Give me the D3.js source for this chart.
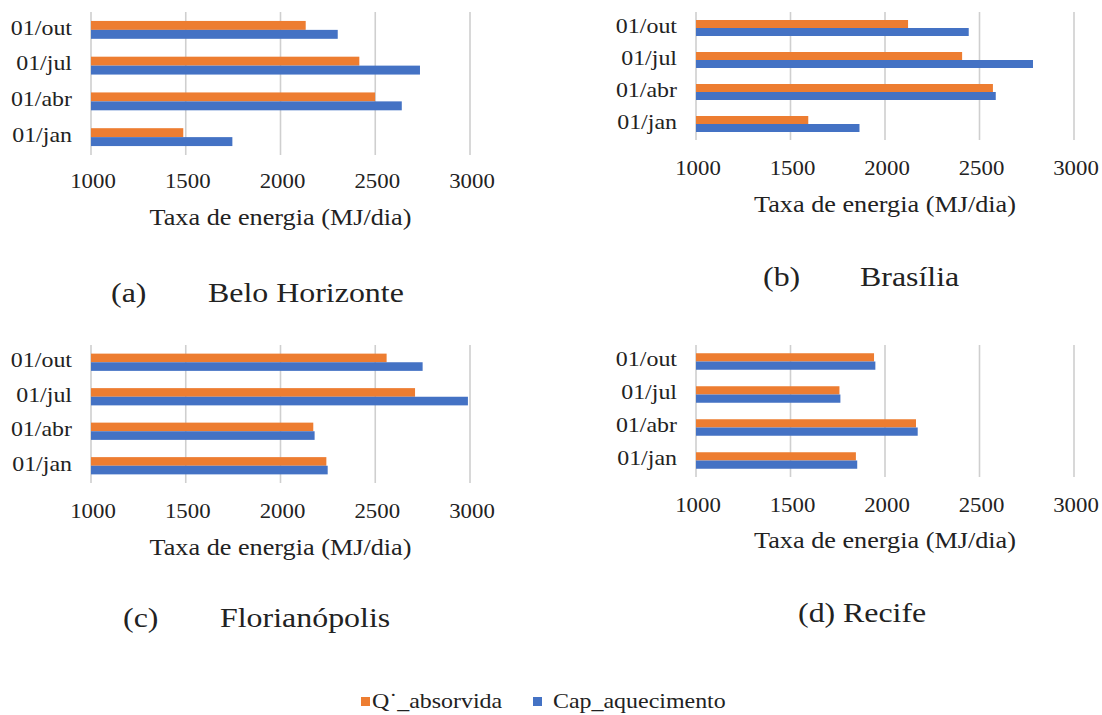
<!DOCTYPE html>
<html>
<head>
<meta charset="utf-8">
<title>Taxa de energia</title>
<style>
body { margin: 0; background: #fff; }
text { font-family: "Liberation Serif", "Times New Roman", serif; fill: #222; }
</style>
</head>
<body>
<script src="https://cdn.jsdelivr.net/npm/d3@7"></script>
<script>
// dane
var categories = ["01/jan", "01/abr", "01/jul", "01/out"];
var seriesNames = ["Q˙_absorvida", "Cap_aquecimento"];
var seriesColors = ["#ED7D31", "#4472C4"];
var xTicks = [1000, 1500, 2000, 2500, 3000];
var axisTitle = "Taxa de energia (MJ/dia)";

var bhQ   = [1487, 2499, 2416, 2133];
var bhCap = [1746, 2640, 2736, 2302];
var brQ   = [1594, 2571, 2408, 2122];
var brCap = [1865, 2586, 2783, 2443];
var flQ   = [2242, 2173, 2710, 2560];
var flCap = [2249, 2180, 2989, 2750];
var reQ   = [1846, 2164, 1759, 1942];
var reCap = [1853, 2173, 1764, 1949];

var width = 1102, height = 715;
var stretch = 1.14; // tekst w oryginale jest rozciagniety w poziomie

var svg = d3.select('body').append('svg')
  .attr('width', width)
  .attr('height', height);

function napis(g, x, y, txt, size, anchor) {
  return g.append('text')
    .attr('transform', 'translate(' + x + ',' + y + ') scale(' + stretch + ',1)')
    .attr('text-anchor', anchor || 'start')
    .attr('dominant-baseline', 'middle')
    .style('font-size', size + 'px')
    .text(txt);
}

var panels = [
  {q: bhQ, cap: bhCap, x0: 91, x1: 470, yTop: 12, yBot: 155, tickY: 183, titleY: 220,
   capY: 296, label: "(a)", labelX: 111, name: "Belo Horizonte", nameX: 208},
  {q: brQ, cap: brCap, x0: 696, x1: 1074, yTop: 12, yBot: 140, tickY: 170, titleY: 207,
   capY: 280, label: "(b)", labelX: 763, name: "Brasília", nameX: 860},
  {q: flQ, cap: flCap, x0: 91, x1: 470, yTop: 345, yBot: 483, tickY: 513, titleY: 550,
   capY: 621, label: "(c)", labelX: 123, name: "Florianópolis", nameX: 220},
  {q: reQ, cap: reCap, x0: 696, x1: 1074, yTop: 345, yBot: 477, tickY: 507, titleY: 543,
   capY: 616, label: "(d)", labelX: 798, name: "Recife", nameX: 843}
];

panels.forEach(function(p) {
  var g = svg.append('g');
  var x = d3.scaleLinear().domain([1000, 3000]).range([p.x0, p.x1]);
  var y = d3.scaleBand().domain(categories).range([p.yBot, p.yTop])
    .paddingInner(0.5).paddingOuter(0.25);
  var ySub = d3.scaleBand().domain([0, 1]).range([0, y.bandwidth()]);

  // linie siatki
  g.selectAll('line.grid')
    .data(xTicks)
    .enter()
    .append('line')
    .attr('class', 'grid')
    .attr('x1', function(d) { return x(d); })
    .attr('x2', function(d) { return x(d); })
    .attr('y1', p.yTop)
    .attr('y2', p.yBot)
    .style('stroke', '#cfcfcf')
    .style('stroke-width', 1.6);

  // slupki
  var rows = categories.map(function(c, i) {
    return [{c: c, s: 0, v: p.q[i]}, {c: c, s: 1, v: p.cap[i]}];
  });
  g.selectAll('g.row')
    .data(rows)
    .enter()
    .append('g')
    .selectAll('rect')
    .data(function(d) { return d; })
    .enter()
    .append('rect')
    .attr('x', x(1000))
    .attr('y', function(d) { return y(d.c) + ySub(d.s); })
    .attr('width', function(d) { return x(d.v) - x(1000); })
    .attr('height', ySub.bandwidth())
    .style('fill', function(d) { return seriesColors[d.s]; });

  // etykiety kategorii
  categories.forEach(function(c) {
    napis(g, p.x0 - 19, y(c) + y.bandwidth() / 2, c, 21, 'end');
  });
  // etykiety osi x
  xTicks.forEach(function(t) {
    napis(g, x(t) + 2, p.tickY, t, 20, 'middle');
  });
  napis(g, (p.x0 + p.x1) / 2, p.titleY, axisTitle, 23, 'middle');

  // podpis panelu
  napis(g, p.labelX, p.capY, p.label, 28, 'start');
  napis(g, p.nameX, p.capY, p.name, 28, 'start');
});

// legenda
var legX = [361, 533];
var legTextX = [372, 553];
seriesNames.forEach(function(s, i) {
  svg.append('rect')
    .attr('x', legX[i])
    .attr('y', 697)
    .attr('width', 9)
    .attr('height', 9)
    .style('fill', seriesColors[i]);
  napis(svg, legTextX[i], 703, s, 21, 'start');
});
</script>
</body>
</html>
